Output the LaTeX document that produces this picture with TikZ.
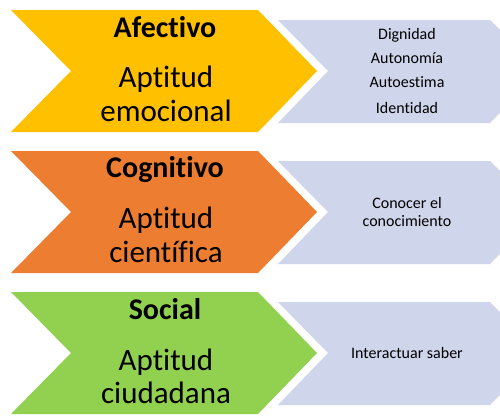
\documentclass[tikz,border=0pt]{standalone}
\usepackage{fontspec}
\setmainfont[Ligatures={NoCommon}]{Carlito}
\definecolor{cyel}{HTML}{FFC000}
\definecolor{cora}{HTML}{ED7D31}
\definecolor{cgrn}{HTML}{92D050}
\definecolor{cgry}{HTML}{CFD5EA}
\tikzset{
  title/.style={font=\fontsize{30}{30}\selectfont\bfseries, anchor=base, inner sep=0pt},
  apt/.style={font=\fontsize{31}{31}\selectfont, anchor=base, inner sep=0pt},
  small/.style={font=\fontsize{16}{16}\selectfont, anchor=base, inner sep=0pt},
}
\newcommand{\bigchev}[2]{% top y, color
  \fill[#2] (11,#1) -- (258,#1) -- (317,#1+61) -- (258,#1+122) -- (11,#1+122) -- (71,#1+61) -- cycle;
  \fill[cgry] (278,#1+10) -- (490,#1+10) -- (541,#1+61) -- (490,#1+113) -- (278,#1+113) -- (328,#1+61) -- cycle;
}
\begin{document}
\begin{tikzpicture}[x=1pt,y=-1pt]
\useasboundingbox (0,0) rectangle (500,416);
\fill[white] (0,0) rectangle (500,416);
\bigchev{10}{cyel}
\bigchev{151}{cora}
\bigchev{292}{cgrn}
\clip (0,0) rectangle (500,416);
% row 1
\node[title] (t1) at (165,37) {Afectivo};
\node[apt] (a1) at (166,87) {Aptitud};
\node[apt] (b1) at (166,121) {emocional};
\node[small] (d1) at (407,39) {Dignidad};
\node[small] (d2) at (407,63) {Autonomía};
\node[small] (d3) at (407,87) {Autoestima};
\node[small] (d4) at (407,113) {Identidad};
% row 2
\node[title] (t2) at (165,177) {Cognitivo};
\node[apt] (a2) at (166,228) {Aptitud};
\node[apt] (b2) at (166,262) {científica};
\node[small] (e1) at (407,208) {Conocer el};
\node[small] (e2) at (407,226) {conocimiento};
% row 3
\node[title] (t3) at (165,319) {Social};
\node[apt] (a3) at (166,370) {Aptitud};
\node[apt] (b3) at (166,403) {ciudadana};
\node[small] (f1) at (407,358) {Interactuar saber};
\end{tikzpicture}
\end{document}
